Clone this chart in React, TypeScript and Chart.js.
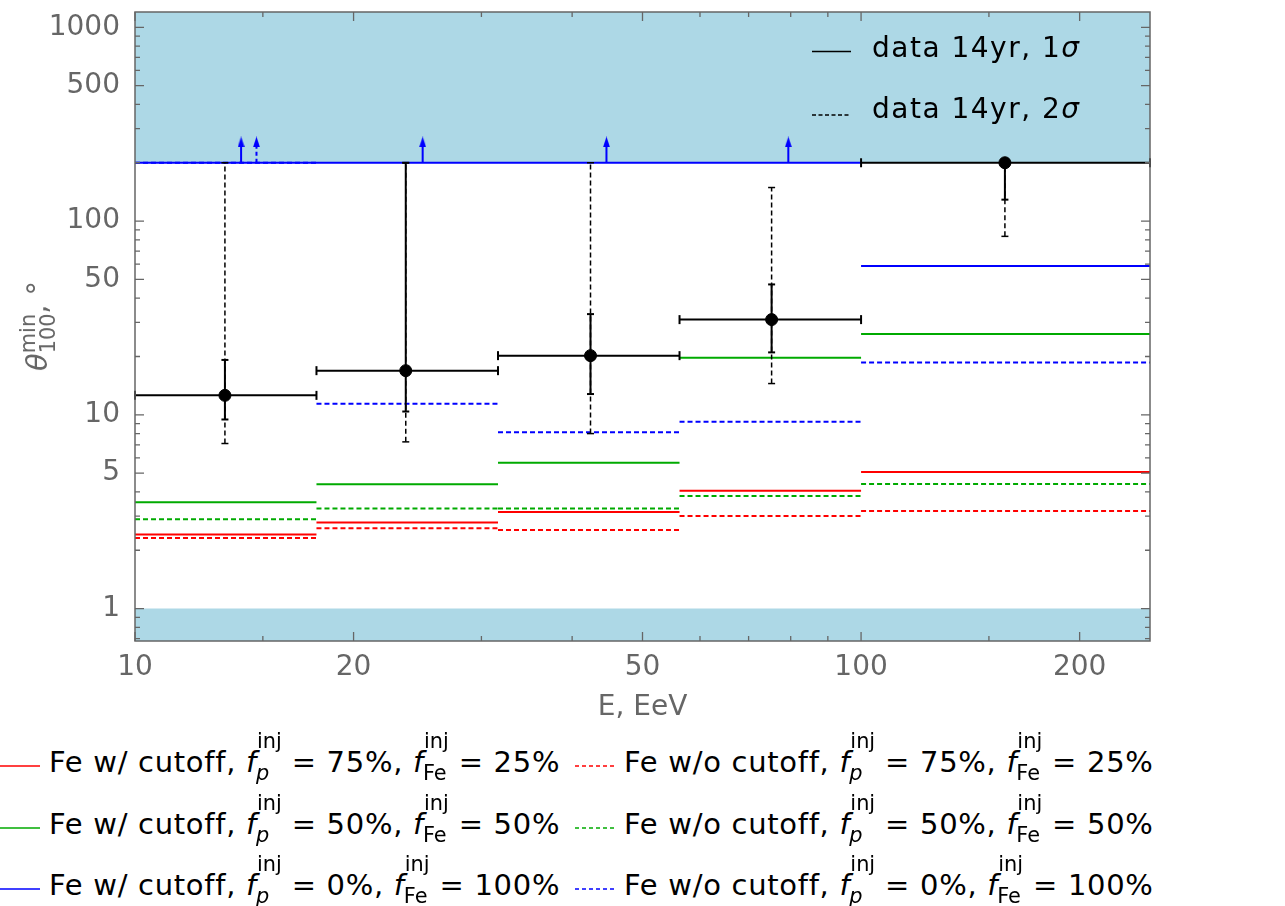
import { useEffect, useRef } from 'react'
import { Chart, registerables } from 'chart.js'

Chart.register(...registerables)

// energy bins, EeV
const BIN_EDGES = [10, 17.78, 31.62, 56.23, 100, 250]

// model predictions per bin, degrees
const RED_CUT = [2.41, 2.78, 3.15, 4.05, 5.07]
const RED_NOCUT = [2.31, 2.6, 2.54, 3.0, 3.19]
const GREEN_CUT = [3.54, 4.38, 5.65, 19.7, 26.1]
const GREEN_NOCUT = [2.89, 3.28, 3.28, 3.81, 4.4]
const BLUE_CUT = [200, 200, 200, 200, 58.7]
const BLUE_NOCUT = [200, 11.4, 8.14, 9.2, 18.6]

// lower limits (arrows) drawn from LIMIT upwards
const LIMIT = 200
const ARROW_TOP = 256
const ARROWS_CUT = [14.0, 24.9, 44.6, 79.4]
const ARROWS_NOCUT = [14.7]

// data 14yr
const DATA_E = [13.3, 23.6, 42.4, 75.3, 157.8]
const DATA_THETA = [12.6, 16.9, 20.2, 31.0, 200]
const SIGMA1_LO = [9.46, 10.4, 12.8, 21.0, 129]
const SIGMA1_HI = [19.2, 200, 33.1, 47.1, 200]
const SIGMA2_LO = [7.11, 7.25, 8.0, 14.5, 83.4]
const SIGMA2_HI = [200, 200, 200, 149, 200]

// shaded regions
const BAND_HIGH = 200
const BAND_LOW = 1

const X_MIN = 10
const X_MAX = 250
const Y_MIN = 0.68
const Y_MAX = 1200
const X_MAJOR = [10, 20, 50, 100, 200]
const X_MINOR = [15, 30, 40, 60, 70, 80, 90, 150]
const Y_MAJOR = [1, 5, 10, 50, 100, 500, 1000]
const Y_MINOR = [0.7, 0.8, 0.9, 2, 3, 4, 6, 7, 8, 9, 20, 30, 40, 60, 70, 80, 90, 200, 300, 400, 600, 700, 800, 900]

const RED = '#ff0000'
const GREEN = '#00aa00'
const BLUE = '#0000ff'
const BAND = '#add8e6'
const GRAY = '#666'
const FONT = 'DejaVu Sans'

const LEGEND_ROWS = [
  { color: RED, p: '75%', fe: '25%' },
  { color: GREEN, p: '50%', fe: '50%' },
  { color: BLUE, p: '0%', fe: '100%' },
]

type Pt = { x: number; y: number | null }

function steps(vals: number[]): Pt[] {
  const pts: Pt[] = []
  vals.forEach((v, i) => {
    pts.push({ x: BIN_EDGES[i], y: v }, { x: BIN_EDGES[i + 1], y: v }, { x: BIN_EDGES[i + 1], y: null })
  })
  return pts
}

function vsegs(xs: number[], lo: number[], hi: number[]): Pt[] {
  const pts: Pt[] = []
  xs.forEach((x, i) => {
    pts.push({ x, y: lo[i] }, { x, y: hi[i] }, { x, y: null })
  })
  return pts
}

const frame = {
  id: 'frame',
  afterDraw(chart: Chart) {
    const { ctx, chartArea: a } = chart
    const x = chart.scales.x
    const y = chart.scales.y
    ctx.save()
    ctx.strokeStyle = GRAY
    ctx.lineWidth = 1.3
    ctx.beginPath()
    const xt = (v: number, len: number) => {
      const px = x.getPixelForValue(v)
      ctx.moveTo(px, a.bottom); ctx.lineTo(px, a.bottom - len)
      ctx.moveTo(px, a.top); ctx.lineTo(px, a.top + len)
    }
    const yt = (v: number, len: number) => {
      const py = y.getPixelForValue(v)
      ctx.moveTo(a.left, py); ctx.lineTo(a.left + len, py)
      ctx.moveTo(a.right, py); ctx.lineTo(a.right - len, py)
    }
    X_MAJOR.forEach(v => xt(v, 9))
    X_MINOR.forEach(v => xt(v, 5))
    Y_MAJOR.forEach(v => yt(v, 9))
    Y_MINOR.forEach(v => yt(v, 5))
    ctx.stroke()
    ctx.lineWidth = 1.5
    ctx.strokeRect(a.left, a.top, a.right - a.left, a.bottom - a.top)

    // data legend
    ctx.strokeStyle = '#000'
    ctx.lineWidth = 1.5
    ctx.beginPath()
    ctx.moveTo(812, 51.5); ctx.lineTo(851, 51.5)
    ctx.stroke()
    ctx.setLineDash([4, 2.5])
    ctx.beginPath()
    ctx.moveTo(812, 115); ctx.lineTo(851, 115)
    ctx.stroke()
    ctx.setLineDash([])
    ctx.fillStyle = '#000'
    ctx.textBaseline = 'alphabetic'
    ;(ctx as any).letterSpacing = '1.5px'
    const row = (label: string, s: string, by: number) => {
      ctx.font = `28px "${FONT}"`
      ctx.fillText(label, 872, by)
      const w = ctx.measureText(label).width
      ctx.font = `italic 28px "${FONT}"`
      ctx.fillText(s, 872 + w, by)
    }
    row('data 14yr, 1', 'σ', 57)
    row('data 14yr, 2', 'σ', 118)
    ;(ctx as any).letterSpacing = '0px'
    ctx.restore()
  },
}

function Inj({ sub, subItalic, raise, drop }: { sub: string; subItalic?: boolean; raise: number; drop: number }) {
  return (
    <span style={{ display: 'inline-block', position: 'relative', fontSize: '0.72em', lineHeight: 1, verticalAlign: raise, letterSpacing: 0 }}>
      inj
      <span style={{ position: 'absolute', left: -1, top: raise + drop, fontStyle: subItalic ? 'italic' : 'normal' }}>{sub}</span>
    </span>
  )
}

function LegendRow({ color, p, fe, dashed, left, base }: { color: string; p: string; fe: string; dashed: boolean; left: number; base: number }) {
  return (
    <>
      <svg style={{ position: 'absolute', left, top: base - 8 }} width={40} height={4}>
        <line x1={0} y1={2} x2={40} y2={2} stroke={color} strokeWidth={1.6} strokeDasharray={dashed ? '4 3' : undefined} />
      </svg>
      <div style={{ position: 'absolute', left: left + 49, top: base - 41.7, lineHeight: '64px', fontSize: 29, whiteSpace: 'nowrap', letterSpacing: 0.7 }}>
        Fe {dashed ? 'w/o' : 'w/'} cutoff, <i>f</i><Inj sub="p" subItalic raise={24} drop={8} /> = {p}, <i>f</i><Inj sub="Fe" raise={24} drop={8} /> = {fe}
      </div>
    </>
  )
}

export default function App() {
  const canvasRef = useRef<HTMLCanvasElement>(null)

  useEffect(() => {
    if (!canvasRef.current) return

    const head = document.createElement('canvas')
    head.width = 7
    head.height = 11
    const hc = head.getContext('2d')!
    hc.fillStyle = BLUE
    hc.beginPath()
    hc.moveTo(3.5, 0); hc.lineTo(7, 11); hc.lineTo(0, 11); hc.closePath()
    hc.fill()

    const model = (vals: number[], color: string, dash: number[]) => ({
      data: steps(vals),
      borderColor: color,
      borderWidth: 2,
      borderDash: dash,
      pointRadius: 0,
      fill: false,
      order: 10,
    })

    const arrows = (xs: number[], dash: number[]) => ({
      data: xs.flatMap(x => [{ x, y: LIMIT }, { x, y: ARROW_TOP }, { x, y: null }]),
      borderColor: BLUE,
      borderWidth: 2,
      borderDash: dash,
      pointStyle: head,
      pointRadius: (c: any) => (c.dataIndex % 3 === 1 ? 5 : 0),
      fill: false,
      order: 8,
    })

    const chart = new Chart(canvasRef.current, {
      type: 'line',
      data: {
        datasets: [
          { data: [{ x: X_MIN, y: BAND_HIGH }, { x: X_MAX, y: BAND_HIGH }], fill: 'end', backgroundColor: BAND, borderWidth: 0, pointRadius: 0, order: 100 },
          { data: [{ x: X_MIN, y: BAND_LOW }, { x: X_MAX, y: BAND_LOW }], fill: 'start', backgroundColor: BAND, borderWidth: 0, pointRadius: 0, order: 100 },
          model(RED_CUT, RED, []),
          model(RED_NOCUT, RED, [5, 3]),
          model(GREEN_CUT, GREEN, []),
          model(GREEN_NOCUT, GREEN, [5, 3]),
          model(BLUE_NOCUT, BLUE, [5, 3]),
          model(BLUE_CUT, BLUE, []),
          arrows(ARROWS_CUT, []),
          arrows(ARROWS_NOCUT, [4, 3]),
          {
            data: steps(DATA_THETA),
            borderColor: '#000',
            borderWidth: 2,
            pointStyle: 'line',
            rotation: 90,
            pointRadius: 4.5,
            pointBorderColor: '#000',
            pointBorderWidth: 2,
            clip: false,
            order: 3,
          },
          {
            data: vsegs(DATA_E, SIGMA2_LO, SIGMA2_HI),
            borderColor: '#000',
            borderWidth: 1.5,
            borderDash: [5, 3],
            pointStyle: 'line',
            pointRadius: 3.5,
            pointBorderColor: '#000',
            pointBorderWidth: 1.5,
            clip: false,
            order: 2,
          },
          {
            data: vsegs(DATA_E, SIGMA1_LO, SIGMA1_HI),
            borderColor: '#000',
            borderWidth: 2,
            pointStyle: 'line',
            pointRadius: 3.5,
            pointBorderColor: '#000',
            pointBorderWidth: 2,
            clip: false,
            order: 1,
          },
          {
            data: DATA_E.map((x, i) => ({ x, y: DATA_THETA[i] })),
            showLine: false,
            pointRadius: 6,
            pointBackgroundColor: '#000',
            pointBorderColor: '#000',
            clip: false,
            order: 0,
          },
        ] as any,
      },
      options: {
        animation: false,
        responsive: true,
        maintainAspectRatio: false,
        layout: { padding: { top: 12, right: 135, left: 0, bottom: 0 } },
        plugins: { legend: { display: false }, tooltip: { enabled: false } },
        scales: {
          x: {
            type: 'logarithmic',
            min: X_MIN,
            max: X_MAX,
            afterBuildTicks: (s: any) => { s.ticks = X_MAJOR.map(v => ({ value: v })) },
            afterFit: (s: any) => { s.height = 89; s.paddingLeft = 0; s.paddingRight = 0 },
            grid: { display: false },
            border: { display: false },
            ticks: { autoSkip: false, maxRotation: 0, color: GRAY, font: { family: FONT, size: 28 }, padding: 2, callback: (v: any) => String(v) },
            title: { display: true, text: 'E, EeV', color: GRAY, font: { family: FONT, size: 28 }, padding: { top: 0, bottom: 5 } },
          },
          y: {
            type: 'logarithmic',
            min: Y_MIN,
            max: Y_MAX,
            afterBuildTicks: (s: any) => { s.ticks = Y_MAJOR.map(v => ({ value: v })) },
            afterFit: (s: any) => { s.width = 135; s.paddingTop = 0; s.paddingBottom = 0 },
            grid: { display: false },
            border: { display: false },
            ticks: { autoSkip: false, color: GRAY, font: { family: FONT, size: 28 }, padding: 7, callback: (v: any) => String(v) },
          },
        },
      },
      plugins: [frame],
    })

    return () => chart.destroy()
  }, [])

  return (
    <div style={{ position: 'absolute', left: 0, top: 0, width: 1285, height: 906, background: '#fff', fontFamily: FONT, overflow: 'hidden' }}>
      <div style={{ position: 'absolute', left: 0, top: 0, width: 1285, height: 730 }}>
        <canvas ref={canvasRef} />
      </div>
      <div style={{ position: 'absolute', left: 37, top: 326, transform: 'translate(-50%, -50%) rotate(-90deg)', color: GRAY, fontSize: 29, lineHeight: '60px', whiteSpace: 'nowrap' }}>
        <i>θ</i>
        <span style={{ display: 'inline-block', position: 'relative', fontSize: '0.72em', lineHeight: 1, verticalAlign: 12 }}>
          min
          <span style={{ position: 'absolute', left: 0, top: 20 }}>100</span>
        </span>, °
      </div>
      {LEGEND_ROWS.map((r, i) => (
        <LegendRow key={'c' + i} color={r.color} p={r.p} fe={r.fe} dashed={false} left={0} base={772 + i * 61.5} />
      ))}
      {LEGEND_ROWS.map((r, i) => (
        <LegendRow key={'n' + i} color={r.color} p={r.p} fe={r.fe} dashed={true} left={575} base={772 + i * 61.5} />
      ))}
    </div>
  )
}
